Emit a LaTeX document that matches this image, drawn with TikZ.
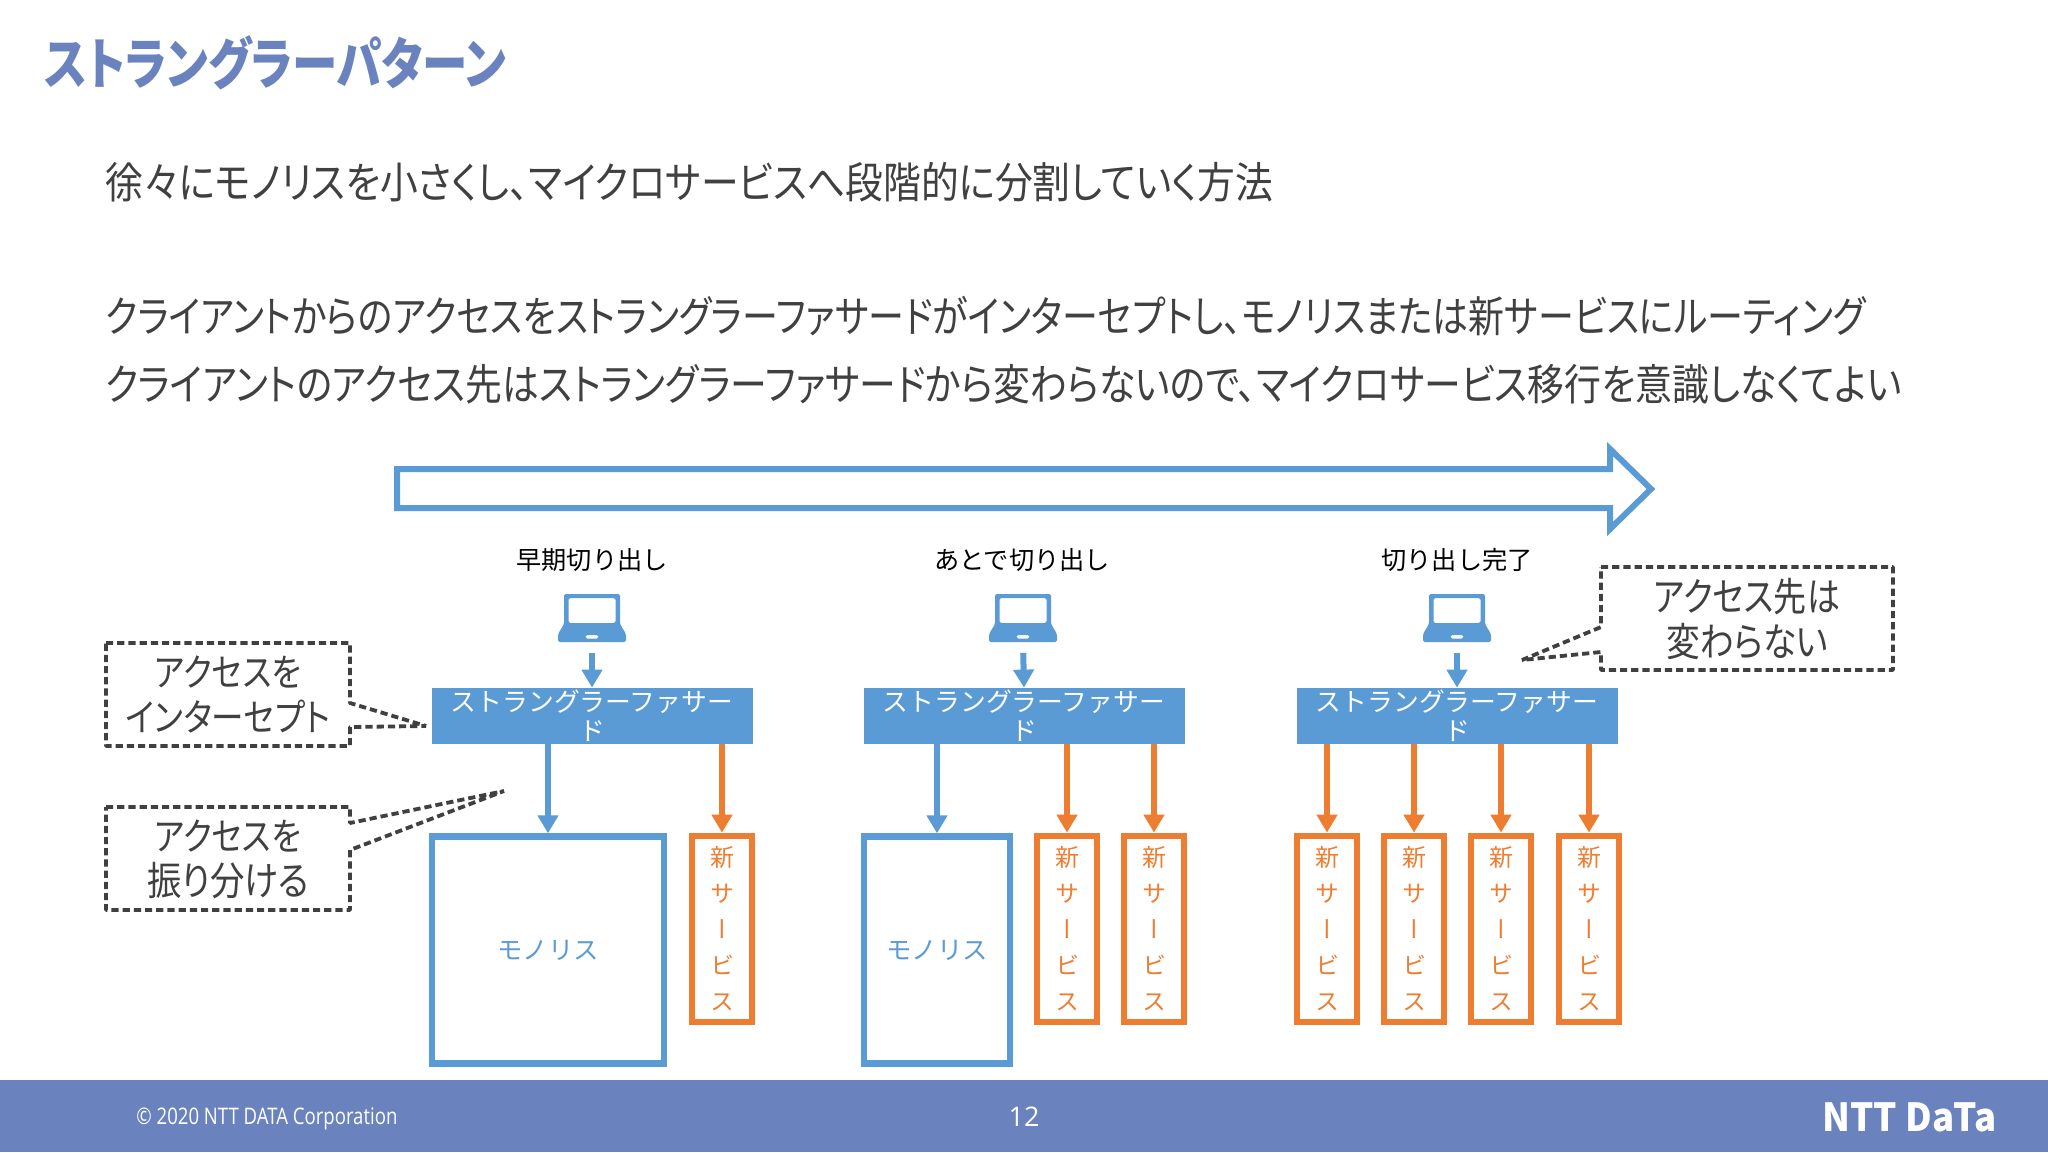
\documentclass[tikz,border=0pt]{standalone}
\usepackage{graphicx}
\usepackage{fontspec}
\usetikzlibrary{arrows.meta}
\setmainfont{Noto Sans CJK JP}
\newfontfamily\jp[RawFeature=+palt]{Noto Sans CJK JP}
\newfontfamily\jpv[RawFeature=+vert]{Noto Sans CJK JP}
\newfontfamily\foot{Open Sans}
\newfontfamily\logofont{Noto Sans CJK JP}
\definecolor{barblue}{HTML}{6A83BE}
\definecolor{boxblue}{HTML}{5B9BD5}
\definecolor{boxorange}{HTML}{ED7D31}
\definecolor{ink}{HTML}{404040}
\newcommand{\fitw}[2]{\resizebox{#1pt}{\totalheight}{#2}}
\tikzset{
  every node/.style={inner sep=0pt},
  bodytext/.style={anchor=west,text=ink,font=\jp\fontsize{19.5}{24}\selectfont},
  stagelabel/.style={text=black,font=\fontsize{12.6}{15}\selectfont},
  facade/.style={fill=boxblue,minimum width=160.5pt,minimum height=28pt,text=white,align=center,font=\fontsize{12.9}{14.5}\selectfont},
  mono/.style={draw=boxblue,line width=3.2pt,fill=white,minimum height=113.5pt,text=boxblue,font=\fontsize{12.7}{15}\selectfont},
  svc/.style={draw=boxorange,line width=3.4pt,fill=white,minimum width=30pt,minimum height=93pt,text=boxorange,align=center,font=\jpv\fontsize{12}{18}\selectfont},
  lapbox/.style={minimum width=34pt,minimum height=24.5pt},
  toblue/.style={draw=boxblue,line width=3pt,-{Triangle[length=9pt,width=10pt]}},
  toorange/.style={draw=boxorange,line width=3pt,-{Triangle[length=9pt,width=10pt]}},
  callout/.style={draw=ink,line width=1.9pt,dash pattern=on 3.6pt off 2pt,fill=white,line join=bevel},
  callouttext/.style={text=ink,align=center,font=\jp\fontsize{18}{22.5}\selectfont},
  laptop/.pic={
    \fill[boxblue,even odd rule,rounded corners=0.8pt]
      (-28,-24)--(28,-24)--(28,6)--(34,16)--(34,24)--(-34,24)--(-34,16)--(-28,6)--cycle
      (-23.5,-20)--(23.5,-20)--(23.5,5)--(-23.5,5)--cycle
      (-6.5,17)--(6.5,17)--(6.5,20.5)--(-6.5,20.5)--cycle;
  }
}
\begin{document}
\begin{tikzpicture}[x=0.5pt,y=-0.5pt]
\useasboundingbox (0,0) rectangle (2048,1152);
\fill[white] (0,0) rectangle (2048,1152);
% footer
\fill[barblue] (0,1080) rectangle (2048,1152);
\node[anchor=west,text=white,font=\foot\fontsize{8.6}{11}\selectfont] (copy) at (136,1119) {\fitw{130.5}{© 2020 NTT DATA Corporation}};
\node[text=white,font=\foot\fontsize{13.5}{15}\selectfont] (pageno) at (1024,1117) {12};
\node[anchor=west,text=white,font=\logofont\bfseries\fontsize{19}{21}\selectfont] (logo) at (1822,1117) {\fitw{87}{NTT DaTa}};
% title and body
\node[anchor=west,text=barblue,font=\jp\bfseries\fontsize{25}{30}\selectfont] (title) at (44,63) {\fitw{231}{ストラングラーパターン}};
\node[bodytext] (l1) at (105,182) {\fitw{584}{徐々にモノリスを小さくし、マイクロサービスへ段階的に分割していく方法}};
\node[bodytext] (l2) at (105,316) {\fitw{880}{クライアントからのアクセスをストラングラーファサードがインターセプトし、モノリスまたは新サービスにルーティング}};
\node[bodytext] (l3) at (105,384) {\fitw{898}{クライアントのアクセス先はストラングラーファサードから変わらないので、マイクロサービス移行を意識しなくてよい}};
% big arrow
\draw[boxblue,line width=3pt,fill=white,miter limit=4] (397,469)--(1610,469)--(1610,449)--(1651,489)--(1610,529)--(1610,508)--(397,508)--cycle;
% stage labels
\node[stagelabel] (s1) at (592,560) {早期切り出し};
\node[stagelabel] (s2) at (1022,560) {あとで切り出し};
\node[stagelabel] (s3) at (1457,560) {切り出し完了};
% laptops
\node[lapbox] (lap1) at (592,618) {};
\node[lapbox] (lap2) at (1023,618) {};
\node[lapbox] (lap3) at (1457,618) {};
\pic at (lap1) {laptop};
\pic at (lap2) {laptop};
\pic at (lap3) {laptop};
% facades
\node[facade] (f1) at (592,716) {ストラングラーファサー\\ド};
\node[facade] (f2) at (1024,716) {ストラングラーファサー\\ド};
\node[facade] (f3) at (1457,716) {ストラングラーファサー\\ド};
% monoliths
\node[mono,minimum width=116pt] (m1) at (548,950) {モノリス};
\node[mono,minimum width=73pt] (m2) at (937,950) {モノリス};
% services
\node[svc] (a1) at (722,929) {新\\サ\\ー\\ビ\\ス};
\node[svc] (b1) at (1067,929) {新\\サ\\ー\\ビ\\ス};
\node[svc] (b2) at (1154,929) {新\\サ\\ー\\ビ\\ス};
\node[svc] (c1) at (1327,929) {新\\サ\\ー\\ビ\\ス};
\node[svc] (c2) at (1414,929) {新\\サ\\ー\\ビ\\ス};
\node[svc] (c3) at (1501,929) {新\\サ\\ー\\ビ\\ス};
\node[svc] (c4) at (1589,929) {新\\サ\\ー\\ビ\\ス};
% connectors
\draw[toblue,shorten <=5pt] (lap1.south) -- (f1.north);
\draw[toblue,shorten <=5pt] (lap2.south) -- (f2.north);
\draw[toblue,shorten <=5pt] (lap3.south) -- (f3.north);
\draw[toblue] (m1.north |- f1.south) -- (m1.north);
\draw[toorange] (a1.north |- f1.south) -- (a1.north);
\draw[toblue] (m2.north |- f2.south) -- (m2.north);
\draw[toorange] (b1.north |- f2.south) -- (b1.north);
\draw[toorange] (b2.north |- f2.south) -- (b2.north);
\draw[toorange] (c1.north |- f3.south) -- (c1.north);
\draw[toorange] (c2.north |- f3.south) -- (c2.north);
\draw[toorange] (c3.north |- f3.south) -- (c3.north);
\draw[toorange] (c4.north |- f3.south) -- (c4.north);
% callouts
\draw[callout] (106,643)--(350,643)--(350,703)--(426,726)--(350,727)--(350,746)--(106,746)--cycle;
\node[callouttext] (ca) at (228,694) {\fitw{73}{アクセスを}\\\fitw{102}{インターセプト}};
\draw[callout] (106,807)--(350,807)--(350,823)--(504,791)--(350,850)--(350,910)--(106,910)--cycle;
\node[callouttext] (cb) at (228,859) {\fitw{73}{アクセスを}\\\fitw{81}{振り分ける}};
\draw[callout] (1601,567)--(1893,567)--(1893,670)--(1601,670)--(1601,652)--(1522,660)--(1601,627)--cycle;
\node[callouttext] (cc) at (1747,619) {\fitw{93}{アクセス先は}\\\fitw{81}{変わらない}};
\end{tikzpicture}
\end{document}
